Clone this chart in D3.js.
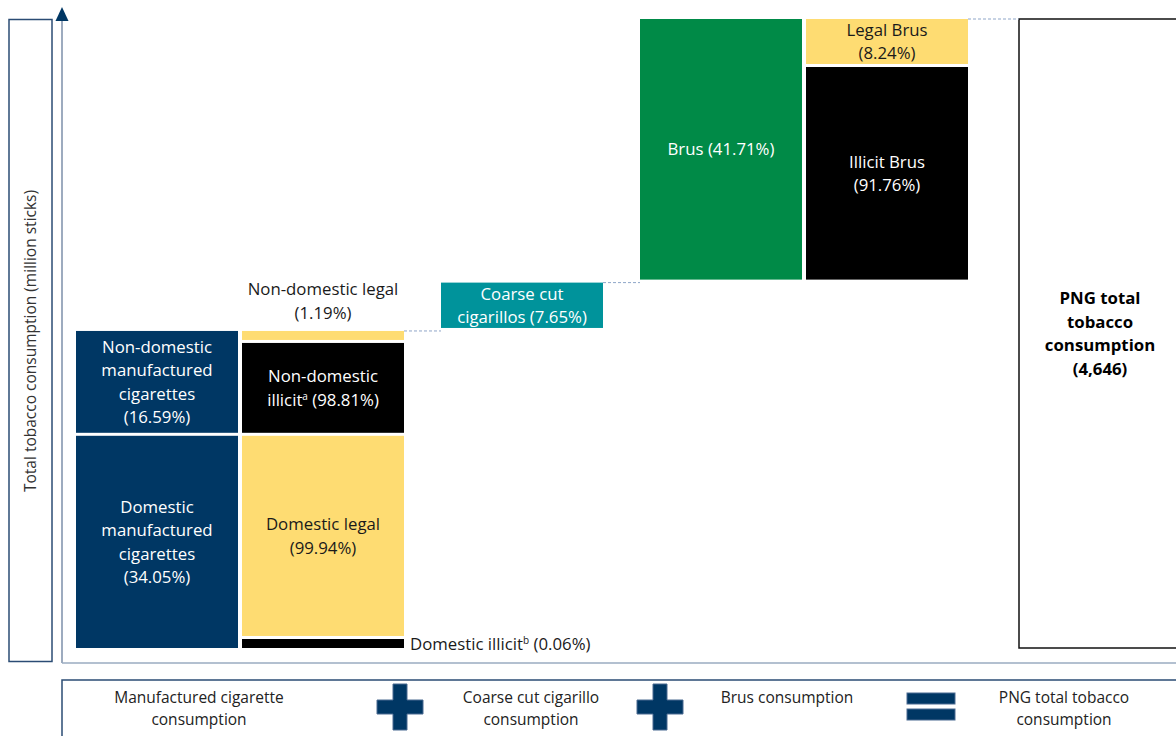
<!DOCTYPE html>
<html>
<head>
<meta charset="utf-8">
<script src="https://cdn.jsdelivr.net/npm/d3@7"></script>
<style>
  body { margin: 0; background: #fff; }
  svg { display: block; font-family: "Open Sans", Lato, sans-serif; }
</style>
</head>
<body>
<svg id="chart" width="1176" height="736"></svg>
<script>
// PNG total tobacco consumption, million sticks
var totalSticks = 4646;

// main products, bottom to top, share of total (%)
var productNames = ["Domestic manufactured cigarettes", "Non-domestic manufactured cigarettes", "Coarse cut cigarillos", "Brus"];
var productShares = [34.05, 16.59, 7.65, 41.71];
var productStage = ["Manufactured cigarette consumption", "Manufactured cigarette consumption", "Coarse cut cigarillo consumption", "Brus consumption"];
var productLines = [
    ["Domestic", "manufactured", "cigarettes", "({p})"],
    ["Non-domestic", "manufactured", "cigarettes", "({p})"],
    ["Coarse cut", "cigarillos ({p})"],
    ["Brus ({p})"]
];

// legal / illicit split of a product, bottom to top, share of the product (%)
var splitParent = [0, 0, 1, 1, 3, 3];
var splitNames = ["Domestic illicit", "Domestic legal", "Non-domestic illicit", "Non-domestic legal", "Illicit Brus", "Legal Brus"];
var splitKind = ["illicit", "legal", "illicit", "legal", "illicit", "legal"];
var splitShares = [0.06, 99.94, 98.81, 1.19, 91.76, 8.24];
var splitLines = [
    ["Domestic illicit^b ({p})"],
    ["Domestic legal", "({p})"],
    ["Non-domestic", "illicit^a ({p})"],
    ["Non-domestic legal", "({p})"],
    ["Illicit Brus", "({p})"],
    ["Legal Brus", "({p})"]
];

// stages of the sum, shown in the legend
var stageNames = ["Manufactured cigarette consumption", "Coarse cut cigarillo consumption", "Brus consumption", "PNG total tobacco consumption"];
var stageLegendLines = [["Manufactured cigarette", "consumption"], ["Coarse cut cigarillo", "consumption"], ["Brus consumption"], ["PNG total tobacco", "consumption"]];
var stageOperators = ["plus", "plus", "equals"];

var navy = "#003764", teal = "#00939B", green = "#008A47", yellow = "#FEDC72", black = "#000000";
var svg = d3.select("#chart");
var pct = function (v) { return v.toFixed(2) + "%"; };
var lineH = 23.5;
var fs = 16.8;

// ---- columns: each stage has a main column, plus a split column if it is split
var colW = 162, innerGap = 4, stageGap = 37, totalGap = 51, x0 = 76;
var colKeys = [], colPos = [], cx = x0;
stageNames.forEach(function (s, i) {
    if (i > 0) cx += (i === stageNames.length - 1) ? totalGap : stageGap;
    colKeys.push(s + "|main"); colPos.push(cx); cx += colW;
    var hasSplit = productStage.some(function (ps, k) { return ps === s && splitParent.indexOf(k) >= 0; });
    if (hasSplit) { cx += innerGap; colKeys.push(s + "|split"); colPos.push(cx); cx += colW; }
});
var colX = d3.scaleOrdinal().domain(colKeys).range(colPos);

var y = d3.scaleLinear().domain([0, totalSticks]).range([649.5, 17.5]);
var color = d3.scaleOrdinal().domain(productNames).range([navy, navy, teal, green]);

// waterfall stacking
var products = [], cum = 0;
productNames.forEach(function (n, i) {
    var v = productShares[i] / 100 * totalSticks;
    products.push({name: n, share: productShares[i], stage: productStage[i], v0: cum, v1: cum + v, lines: productLines[i]});
    cum += v;
});

// split segments, laid out inside the parent pixel range
var splits = [];
products.forEach(function (p, pi) {
    var idx = [];
    splitParent.forEach(function (sp, k) { if (sp === pi) idx.push(k); });
    if (!idx.length) return;
    var top = y(p.v1), bot = y(p.v0), hp = bot - top;
    var segs = idx.map(function (k) {
        var raw = splitShares[k] / 100 * hp;
        var outside = raw < 8;
        var minH = outside ? 12 : splitLines[k].length * 24;
        return {name: splitNames[k], kind: splitKind[k], share: splitShares[k], lines: splitLines[k], stage: p.stage, outside: outside, h: Math.max(raw, minH)};
    });
    var big = segs.reduce(function (a, b) { return a.share > b.share ? a : b; });
    big.h = hp - d3.sum(segs.filter(function (s) { return s !== big; }), function (s) { return s.h; });
    var yb = bot;
    segs.forEach(function (s, j) {
        s.y1 = yb; s.y0 = yb - s.h; yb = s.y0;
        s.pos = j === 0 ? "right" : "above";
        splits.push(s);
    });
});

// ---- text helper: lines with optional superscript "^x"
function addLines(g, lines, x, yc, anchor, fill, weight, p) {
    var t = g.append("text")
        .attr("x", x).attr("y", yc)
        .attr("text-anchor", anchor)
        .attr("font-size", fs)
        .attr("font-weight", weight || "normal")
        .attr("fill", fill);
    lines.forEach(function (ln, i) {
        var txt = ln.replace("{p}", p);
        var dy0 = i === 0 ? (-(lines.length - 1) / 2 * lineH + 6) : lineH;
        var parts = txt.split("^");
        t.append("tspan").attr("x", x).attr("dy", dy0).text(parts[0]);
        if (parts.length > 1) {
            t.append("tspan").attr("dy", -6).attr("font-size", 10).text(parts[1].charAt(0));
            t.append("tspan").attr("dy", 6).text(parts[1].slice(1));
        }
    });
    return t;
}

// ---- axis frame
svg.append("rect")
    .attr("x", 9).attr("y", 19.5).attr("width", 43).attr("height", 642)
    .attr("fill", "none").attr("stroke", "#2B4C74").attr("stroke-width", 1.5);
svg.append("text")
    .attr("transform", "translate(36," + 341 + ") rotate(-90)")
    .attr("text-anchor", "middle")
    .attr("font-size", 15.5)
    .attr("fill", "#333")
    .text("Total tobacco consumption (million sticks)");

svg.append("line").attr("x1", 62).attr("x2", 62).attr("y1", 18).attr("y2", 663)
    .attr("stroke", "#7D8FAA").attr("stroke-width", 1.5);
svg.append("line").attr("x1", 62).attr("x2", 1176).attr("y1", 663).attr("y2", 663)
    .attr("stroke", "#9AABC0").attr("stroke-width", 1.5);
svg.append("path").attr("d", "M55.5,21 L62,7 L68.5,21 Z").attr("fill", navy);

// ---- main product bars
var gMain = svg.append("g").attr("id", "products");
gMain.selectAll("rect")
    .data(products)
    .enter()
    .append("rect")
    .attr("x", function (d) { return colX(d.stage + "|main"); })
    .attr("y", function (d) { return y(d.v1) + 1.5; })
    .attr("width", colW)
    .attr("height", function (d) { return y(d.v0) - y(d.v1) - 3; })
    .attr("fill", function (d) { return color(d.name); });
products.forEach(function (d) {
    addLines(gMain, d.lines, colX(d.stage + "|main") + colW / 2, (y(d.v0) + y(d.v1)) / 2, "middle", "#fff", null, pct(d.share));
});

// ---- split bars
var gSplit = svg.append("g").attr("id", "splits");
gSplit.selectAll("rect")
    .data(splits)
    .enter()
    .append("rect")
    .attr("x", function (d) { return colX(d.stage + "|split"); })
    .attr("y", function (d) { return d.y0 + 1.5; })
    .attr("width", colW)
    .attr("height", function (d) { return d.h - 3; })
    .attr("fill", function (d) { return d.kind === "legal" ? yellow : black; });
splits.forEach(function (d) {
    var xl = colX(d.stage + "|split");
    var inkFill = d.kind === "legal" ? "#1a1a1a" : "#fff";
    if (!d.outside) {
        addLines(gSplit, d.lines, xl + colW / 2, (d.y0 + d.y1) / 2, "middle", inkFill, null, pct(d.share));
    } else if (d.pos === "right") {
        addLines(gSplit, d.lines, xl + colW + 6, (d.y0 + d.y1) / 2, "start", "#1a1a1a", null, pct(d.share));
    } else {
        var yc = d.y0 - 5 - (d.lines.length) / 2 * lineH;
        addLines(gSplit, d.lines, xl + colW / 2, yc, "middle", "#1a1a1a", null, pct(d.share));
    }
});

// ---- total bar
var gTot = svg.append("g").attr("id", "total");
var totKey = stageNames[stageNames.length - 1] + "|main";
gTot.append("rect")
    .attr("x", colX(totKey))
    .attr("y", y(totalSticks) + 1.5)
    .attr("width", colW)
    .attr("height", y(0) - y(totalSticks) - 3)
    .attr("fill", "#fff").attr("stroke", "#111").attr("stroke-width", 1.5);
addLines(gTot, ["PNG total", "tobacco", "consumption", "(" + d3.format(",")(totalSticks) + ")"],
    colX(totKey) + colW / 2, (y(0) + y(totalSticks)) / 2, "middle", "#000", "bold", "");

// ---- dashed connectors between stages
var conn = [];
var stageTops = stageNames.slice(0, -1).map(function (s) {
    var ps = products.filter(function (p) { return p.stage === s; });
    var hasSplit = colKeys.indexOf(s + "|split") >= 0;
    return {right: colX(s + (hasSplit ? "|split" : "|main")) + colW, v: d3.max(ps, function (p) { return p.v1; })};
});
stageTops.forEach(function (st, i) {
    conn.push({x1: st.right, x2: colX(stageNames[i + 1] + "|main"), v: st.v});
});
svg.append("g").selectAll("line")
    .data(conn)
    .enter()
    .append("line")
    .attr("x1", function (d) { return d.x1; })
    .attr("x2", function (d) { return d.x2; })
    .attr("y1", function (d) { return y(d.v) + 1.5; })
    .attr("y2", function (d) { return y(d.v) + 1.5; })
    .attr("stroke", "#8FA6C8").attr("stroke-width", 1).attr("stroke-dasharray", "3,2");

// ---- legend
var gLeg = svg.append("g").attr("id", "legend");
gLeg.append("rect")
    .attr("x", 62).attr("y", 680).attr("width", 1140).attr("height", 70)
    .attr("fill", "#fff").attr("stroke", "#2B4C74").attr("stroke-width", 1.5);
var legendItemX = [199, 531, 787, 1064];
var legendOpX = [400, 660, 931];
stageLegendLines.forEach(function (lines, i) {
    var t = gLeg.append("text")
        .attr("text-anchor", "middle")
        .attr("font-size", 15.5)
        .attr("fill", "#222");
    lines.forEach(function (ln, j) {
        t.append("tspan").attr("x", legendItemX[i]).attr("y", 703 + j * 21.5).text(ln);
    });
});
stageOperators.forEach(function (op, i) {
    var c = legendOpX[i], m = 707;
    if (op === "plus") {
        gLeg.append("path")
            .attr("d", "M" + (c - 23) + "," + (m - 7) + "H" + (c - 7) + "V" + (m - 23) + "H" + (c + 7) + "V" + (m - 7) +
                "H" + (c + 23) + "V" + (m + 7) + "H" + (c + 7) + "V" + (m + 23) + "H" + (c - 7) + "V" + (m + 7) +
                "H" + (c - 23) + "Z")
            .attr("fill", navy).attr("stroke", "#4B6B91").attr("stroke-width", 1);
    } else {
        [693, 709].forEach(function (yy) {
            gLeg.append("rect").attr("x", c - 24).attr("y", yy).attr("width", 48).attr("height", 11)
                .attr("fill", navy).attr("stroke", "#4B6B91").attr("stroke-width", 1);
        });
    }
});
</script>
</body>
</html>
